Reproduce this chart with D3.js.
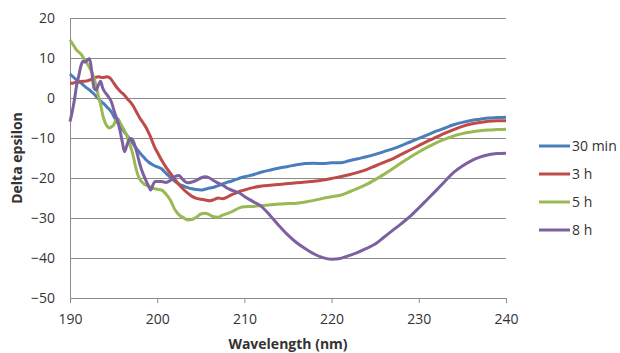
<!DOCTYPE html>
<meta charset="utf-8">
<style>
  body { margin: 0; background: #fff; }
  text { font-family: "Open Sans", "Noto Sans", sans-serif; fill: #333; }
</style>

<!-- Load d3.js -->
<script src="https://d3js.org/d3.v7.min.js"></script>

<div id="my_dataviz"></div>

<script>

// wavelength (nm), shared by all series
var wavelength = [190,190.25,190.5,190.75,191,191.25,191.5,191.75,192,192.25,192.5,192.75,193,193.25,193.5,193.75,194,194.25,194.5,194.75,
  195,195.25,195.5,195.75,196,196.25,196.5,196.75,197,197.25,197.5,197.75,198,198.25,198.5,198.75,199,199.25,199.5,199.75,200,
  200.5,201,201.5,202,202.5,203,203.5,204,204.5,205,205.5,206,206.5,207,207.5,208,208.5,209,209.5,210,
  211,212,213,214,215,216,217,218,219,220,221,222,223,224,225,226,227,228,229,230,231,232,233,234,235,236,237,238,239,240];

var min30 = [6.0,5.5,5.0,4.5,4.2,3.8,3.3,2.8,2.4,2.0,1.5,1.0,0.4,-0.2,-0.7,-1.2,-1.7,-2.3,-2.8,-3.5,
  -4.5,-5.5,-6.3,-7.0,-7.8,-8.6,-9.2,-10.0,-10.7,-11.5,-12.3,-13.0,-13.7,-14.3,-14.9,-15.5,-16.0,-16.4,-16.7,-17.0,-17.2,
  -17.7,-18.8,-19.8,-20.8,-21.6,-22.0,-22.4,-22.7,-22.9,-23.0,-22.8,-22.5,-22.3,-21.9,-21.5,-21.1,-20.8,-20.4,-20.0,-19.7,
  -19.2,-18.5,-18.0,-17.5,-17.1,-16.7,-16.4,-16.3,-16.4,-16.2,-16.2,-15.7,-15.2,-14.7,-14.1,-13.4,-12.7,-11.9,-11.0,-10.1,
  -9.2,-8.3,-7.5,-6.7,-6.1,-5.6,-5.3,-5.0,-4.9,-4.8];

var h3 = [3.7,3.7,3.8,3.9,4.0,4.1,4.2,4.2,4.3,4.5,4.7,5.0,5.2,5.3,5.2,5.1,5.2,5.3,5.1,4.6,
  3.8,3.0,2.3,1.7,1.2,0.7,0.0,-0.6,-1.2,-2.0,-3.0,-4.0,-5.0,-5.8,-6.6,-7.5,-8.6,-9.8,-11.2,-12.5,-13.5,
  -15.5,-17.3,-18.8,-20.3,-21.6,-22.8,-23.8,-24.6,-25.1,-25.3,-25.5,-25.7,-25.4,-25.0,-25.2,-24.8,-24.2,-23.8,-23.3,-23.0,
  -22.4,-22.0,-21.8,-21.6,-21.4,-21.2,-21.0,-20.8,-20.5,-20.1,-19.7,-19.2,-18.6,-17.9,-17.0,-16.1,-15.2,-14.1,-13.0,-11.9,
  -10.8,-9.8,-8.8,-7.9,-7.1,-6.5,-6.1,-5.8,-5.7,-5.7];

var h5 = [14.5,13.7,12.8,12.0,11.5,11.0,10.2,9.3,8.5,7.5,6.5,5.0,3.0,0.5,-1.5,-4.2,-6.0,-7.0,-7.5,-7.2,
  -6.8,-5.5,-5.2,-6.2,-7.2,-8.2,-9.3,-11.0,-12.5,-14.5,-17.0,-19.0,-20.3,-21.0,-21.5,-21.8,-22.0,-22.3,-22.6,-22.7,-22.8,
  -23.0,-24.0,-25.5,-27.8,-29.2,-29.9,-30.5,-30.4,-29.8,-29.0,-28.8,-29.2,-29.7,-29.8,-29.3,-28.9,-28.5,-27.9,-27.4,-27.2,
  -27.1,-26.9,-26.7,-26.5,-26.4,-26.3,-26.0,-25.6,-25.1,-24.7,-24.3,-23.5,-22.6,-21.6,-20.4,-19.1,-17.7,-16.2,-14.8,-13.5,
  -12.3,-11.2,-10.3,-9.5,-8.9,-8.5,-8.2,-8.0,-7.9,-7.8];

var h8 = [-5.9,-3.5,-0.5,3.0,5.5,8.0,9.2,9.0,9.5,9.8,6.5,2.5,2.0,3.2,4.2,2.5,1.5,0.8,0.0,-1.0,
  -2.8,-4.5,-6.0,-8.3,-11.0,-13.4,-12.0,-10.5,-10.1,-10.7,-12.3,-14.3,-16.5,-18.2,-19.6,-20.8,-22.0,-23.0,-21.8,-20.9,-20.9,
  -20.9,-21.1,-20.6,-19.7,-19.4,-20.5,-21.2,-21.0,-20.6,-20.0,-19.7,-20.0,-20.7,-21.3,-21.8,-22.5,-23.0,-23.4,-23.8,-24.6,
  -25.9,-27.2,-29.5,-32.0,-34.3,-36.2,-37.7,-39.0,-39.9,-40.3,-40.1,-39.4,-38.6,-37.6,-36.5,-34.8,-33.1,-31.4,-29.6,-27.5,
  -25.3,-23.1,-20.8,-18.6,-17.0,-15.7,-14.8,-14.2,-13.9,-13.8];

var seriesNames = ["30 min", "3 h", "5 h", "8 h"];
var seriesValues = [min30, h3, h5, h8];
var seriesColors = ["#4a7ebb", "#be4b48", "#98b954", "#7d60a0"];

var xTicks = [190, 200, 210, 220, 230, 240];
var yTicks = [20, 10, 0, -10, -20, -30, -40, -50];

// set the dimensions and margins of the graph
var margin = {top: 18, right: 114, bottom: 55, left: 70},
    width = 620 - margin.left - margin.right,
    height = 353 - margin.top - margin.bottom;

var root = d3.select("#my_dataviz")
  .append("svg")
    .attr("width", 620)
    .attr("height", 353);

var svg = root.append("g")
    .attr("transform", "translate(" + margin.left + "," + margin.top + ")");

var x = d3.scaleLinear().domain([190, 240]).range([0, width]);
var y = d3.scaleLinear().domain([-50, 20]).range([height, 0]);

// horizontal gridlines
svg.append("g")
  .selectAll("line")
  .data(yTicks.filter(function(d) { return d > -50; }))
  .enter().append("line")
    .attr("x1", 0).attr("x2", width)
    .attr("y1", function(d) { return y(d); })
    .attr("y2", function(d) { return y(d); })
    .attr("stroke", "#8c8c8c")
    .attr("stroke-width", 1)
    .attr("shape-rendering", "crispEdges");

// Y axis
var yAxis = svg.append("g")
  .call(d3.axisLeft(y).tickValues(yTicks).tickSize(0).tickPadding(15));
yAxis.select(".domain").attr("stroke", "#8c8c8c");
yAxis.selectAll("text").style("font-size", "14px").attr("fill", "#333");

// X axis
var xAxis = svg.append("g")
  .attr("transform", "translate(0," + height + ")")
  .call(d3.axisBottom(x).tickValues(xTicks).tickSize(5).tickPadding(11));
xAxis.select(".domain").attr("stroke", "#8c8c8c");
xAxis.selectAll("line").attr("stroke", "#8c8c8c");
xAxis.selectAll("text").style("font-size", "14px").attr("fill", "#333");

// lines
var line = d3.line()
  .x(function(d, i) { return x(wavelength[i]); })
  .y(function(d) { return y(d); })
  .curve(d3.curveMonotoneX);

seriesValues.forEach(function(vals, k) {
  svg.append("path")
    .datum(vals)
    .attr("fill", "none")
    .attr("stroke", seriesColors[k])
    .attr("stroke-width", 3)
    .attr("stroke-linejoin", "round")
    .attr("d", line);
});

// axis titles
root.append("text")
  .attr("transform", "translate(22," + (margin.top + height / 2) + ") rotate(-90)")
  .attr("text-anchor", "middle")
  .style("font-size", "14px")
  .style("font-weight", "bold")
  .text("Delta epsilon");

root.append("text")
  .attr("x", margin.left + width / 2)
  .attr("y", 349)
  .attr("text-anchor", "middle")
  .style("font-size", "14px")
  .style("font-weight", "bold")
  .text("Wavelength (nm)");

// legend
var legend = root.append("g")
  .attr("transform", "translate(539,146)");

seriesNames.forEach(function(name, k) {
  var g = legend.append("g").attr("transform", "translate(0," + (k * 28) + ")");
  g.append("line")
    .attr("x1", 0).attr("x2", 31)
    .attr("y1", 0).attr("y2", 0)
    .attr("stroke", seriesColors[k])
    .attr("stroke-width", 3);
  g.append("text")
    .attr("x", 33)
    .attr("y", 5)
    .style("font-size", "14px")
    .text(name);
});

</script>
